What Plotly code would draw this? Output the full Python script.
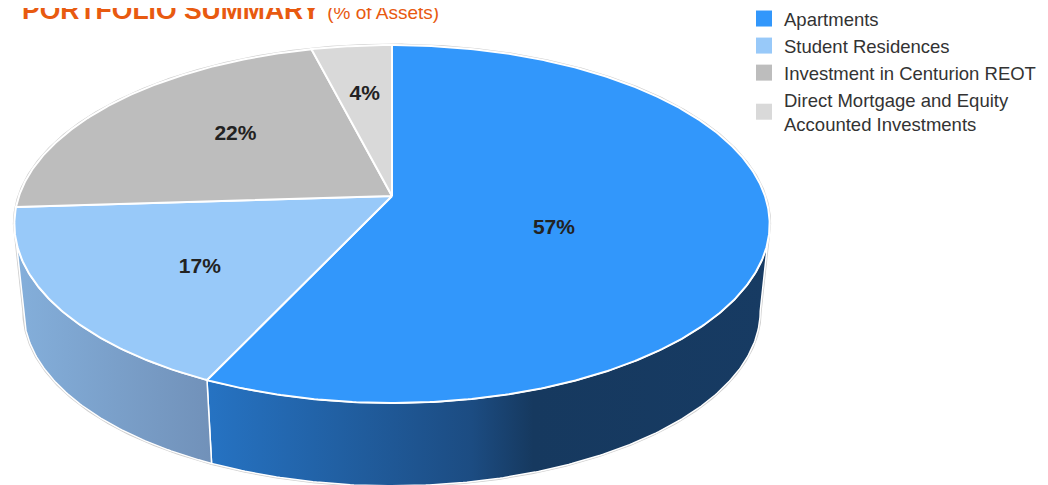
import numpy as np
import plotly.graph_objects as go

# ---------------- data ----------------
CATEGORIES = ["Apartments", "Student Residences", "Investment in Centurion REOT",
              "Direct Mortgage and Equity<br>Accounted Investments"]
VALUES = [57, 17, 22, 4]
LABEL_TEXT = ["57%", "17%", "22%", "4%"]

# ---------------- style ----------------
TOP_COLORS = ["#3297fb", "#98c9f9", "#bdbdbd", "#d9d9d9"]
SIDE_SCALES = [
    [[0, "#2673c3"], [0.47, "#1c4c82"], [0.58, "#16395f"], [1, "#173b63"]],
    [[0, "#84afdb"], [1, "#7191b9"]],
    [[0, "#9a9a9a"], [1, "#8a8a8a"]],
    [[0, "#b0b0b0"], [1, "#a0a0a0"]],
]
OFF = 8.0                  # page body margin
W, H = 1048, 485
CX, CY = 392.0, 196.0      # projected pie centre (pixels)
A, B = 373.0, 174.6        # projected radii
K = 0.1565                 # perspective strength
DEPTH = 88.0               # slab thickness
BOT_SCALE = 0.975
LABEL_R = [0.46, 0.62, 0.58, 0.64]
LABEL_DA = [11.0, -4.5, 4.0, 0.0]
FONT = "Liberation Sans, Arial, sans-serif"


def proj(theta_deg, r=1.0, bottom=False):
    t = np.radians(theta_deg)
    u, v = r * np.sin(t), r * np.cos(t)
    w = 1 + K * v
    s = BOT_SCALE if bottom else 1.0
    dy = DEPTH if bottom else 0.0
    return CX + A * s * u / w, CY + dy - B * s * v / w


def arc(t0, t1, bottom=False):
    n = max(int(abs(t1 - t0) * 2), 4)
    th = np.linspace(t0, t1, n)
    return proj(th, bottom=bottom)


total = float(sum(VALUES))
bounds = np.concatenate([[0.0], np.cumsum(VALUES) / total * 360.0])
vis_lo = np.degrees(np.arccos(-K))          # right silhouette
vis_hi = 360.0 - vis_lo                     # left silhouette

fig = go.Figure()

# outer silhouette (light grey rim)
bx, by = arc(vis_lo, vis_hi, bottom=True)
tx, ty = arc(vis_hi, vis_lo + 360.0)
sil_x = np.concatenate([bx, tx, bx[:1]])
sil_y = np.concatenate([by, ty, by[:1]])
fig.add_trace(go.Scatter(x=sil_x, y=sil_y, mode="lines",
                         line=dict(color="#cfcfcf", width=3),
                         hoverinfo="skip", showlegend=False))

# side walls (front visible part)
for i in range(len(VALUES)):
    a0, a1 = max(bounds[i], vis_lo), min(bounds[i + 1], vis_hi)
    if a1 <= a0:
        continue
    x1, y1 = arc(a0, a1)
    x2, y2 = arc(a1, a0, bottom=True)
    xs = np.concatenate([x1, x2, x1[:1]])
    ys = np.concatenate([y1, y2, y1[:1]])
    fig.add_trace(go.Scatter(
        x=xs, y=ys, mode="lines", fill="toself",
        line=dict(color="white", width=1.5),
        fillgradient=dict(type="horizontal", colorscale=SIDE_SCALES[i],
                          start=float(xs.min()), stop=float(xs.max())),
        hoverinfo="skip", showlegend=False))

# top faces
for i in range(len(VALUES)):
    x, y = arc(bounds[i], bounds[i + 1])
    xs = np.concatenate([[CX], x, [CX]])
    ys = np.concatenate([[CY], y, [CY]])
    fig.add_trace(go.Scatter(
        x=xs, y=ys, mode="lines", fill="toself", fillcolor=TOP_COLORS[i],
        line=dict(color="white", width=2),
        hoverinfo="skip", showlegend=False))

# labels
lx, ly = [], []
for i in range(len(VALUES)):
    mid = (bounds[i] + bounds[i + 1]) / 2 + LABEL_DA[i]
    px, py = proj(mid, r=LABEL_R[i])
    lx.append(px)
    ly.append(py)
fig.add_trace(go.Scatter(
    x=lx, y=ly, mode="text", text=LABEL_TEXT,
    textfont=dict(family=FONT, size=21, color="#222222", weight="bold"),
    hoverinfo="skip", showlegend=False))

# legend entries
for i, name in enumerate(CATEGORIES):
    fig.add_trace(go.Scatter(
        x=[None], y=[None], mode="markers", name=name, legendgroup=f"g{i}",
        marker=dict(symbol="square", size=16, color=TOP_COLORS[i]),
        hoverinfo="skip"))

fig.add_annotation(
    xref="paper", yref="paper", x=(20 - OFF) / W, y=1 - 2 / H,
    xanchor="left", yanchor="middle", showarrow=False,
    text="<b>PORTFOLIO SUMMARY</b> <span style='font-size:19px;font-weight:normal'>(% of Assets)</span>",
    font=dict(family=FONT, size=26.5, color="#e85a10"))

fig.update_layout(
    width=W, height=H,
    margin=dict(l=0, r=0, t=0, b=0, autoexpand=False),
    paper_bgcolor="white", plot_bgcolor="white",
    xaxis=dict(range=[OFF, W + OFF], visible=False, fixedrange=True),
    yaxis=dict(range=[H + OFF, OFF], visible=False, fixedrange=True),
    showlegend=True,
    legend=dict(x=(744 - OFF) / W, y=1 + 8 / H, xanchor="left", yanchor="top",
                font=dict(family=FONT, size=18.5, color="#333333"),
                tracegroupgap=0, bgcolor="rgba(0,0,0,0)"),
)

fig.write_html("out.html")
